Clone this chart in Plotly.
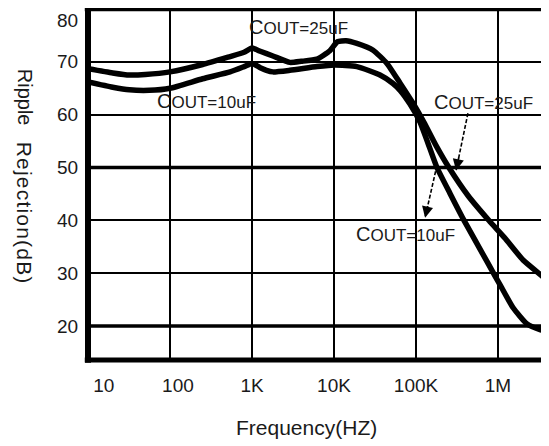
import numpy as np
import plotly.graph_objects as go

# ---------------- data ----------------
freq_25uF = [10, 20, 32, 50, 100, 250, 540, 800, 1000, 1260, 1800, 2900, 4000, 6200, 8900,
             11000, 14000, 19000, 30000, 44000, 64000, 92000, 125000, 175000, 252000,
             430000, 776000, 1220000, 2020000, 3740000, 4190000]
rr_25uF = [68.7, 67.9, 67.5, 67.6, 68.1, 69.5, 71.0, 71.8, 72.6, 72.0, 71.1, 69.9, 70.1, 70.5, 72.1,
           73.8, 74.0, 73.5, 72.2, 69.75, 65.96, 62.16, 58.56, 54.2, 50.0,
           44.7, 39.96, 36.6, 32.5, 29.0, 28.2]

freq_10uF = [10, 20, 32, 56, 100, 250, 540, 800, 1000, 1260, 1500, 1800, 2900, 6200, 10200,
             19000, 36400, 52500, 64000, 84500, 112000, 140000, 180000, 260000, 385000,
             638000, 918000, 1060000, 1520000, 2260000, 3250000, 4190000]
rr_10uF = [66.2, 65.2, 64.7, 64.6, 65.0, 66.8, 68.1, 69.1, 69.7, 68.9, 68.4, 68.1, 68.4, 69.1, 69.4,
           69.1, 67.5, 65.9, 64.6, 62.0, 58.6, 54.6, 50.0, 45.1, 40.0,
           33.9, 29.5, 27.8, 23.5, 20.4, 19.3, 18.9]

x_tick_vals = [10, 100, 1000, 10000, 100000, 1000000]
x_tick_text = ["10", "100", "1K", "10K", "100K", "1M"]
y_tick_vals = [20, 30, 40, 50, 60, 70, 80]
y_tick_text = ["20", "30", "40", "50", "60", "70", "80"]
bold_grid_y = [20, 50]

# label texts and anchor points (freq, dB)
label_text = ["COUT=25uF", "COUT=10uF", "COUT=25uF", "COUT=10uF"]
label_freq = [3640, 282, 674000, 73500]
label_db = [76.6, 62.5, 62.35, 37.5]

# arrows: tail (freq, dB) -> head (freq, dB)
arrow_tail_freq = [430000, 180000]
arrow_tail_db = [60.27, 50.4]
arrow_head_freq = [308000, 129000]
arrow_head_db = [49.45, 40.5]

# ---------------- style ----------------
FONT = "Liberation Sans, Arial, sans-serif"
TXT = "#1a1a1a"
x_label_pad = [6, 3, 0, 0, 0, 0]  # nbsp padding to nudge labels like the original

fig = go.Figure()
for fx, fy in [(freq_25uF, rr_25uF), (freq_10uF, rr_10uF)]:
    fig.add_trace(go.Scatter(
        x=fx, y=fy, mode="lines",
        line=dict(color="black", width=5.5, shape="spline", smoothing=0.5),
        showlegend=False, hoverinfo="skip"))

ticktext = ["\u00a0" * p + t for p, t in zip(x_label_pad, x_tick_text)]

fig.update_xaxes(
    type="log", range=[1, 6.622],
    tickmode="array", tickvals=x_tick_vals, ticktext=ticktext,
    showgrid=True, gridcolor="black", gridwidth=1.6,
    showline=False,
    ticks="outside", ticklen=8, tickcolor="rgba(0,0,0,0)",
    tickfont=dict(family=FONT, size=19, color=TXT),
    zeroline=False, fixedrange=True,
)
fig.update_yaxes(
    range=[13.57, 80.0],
    tickmode="array", tickvals=y_tick_vals,
    showgrid=True, gridcolor="black", gridwidth=1.6,
    showline=False, ticks="", showticklabels=False,
    zeroline=False, fixedrange=True,
)

for v in bold_grid_y:
    fig.add_shape(type="line", xref="paper", yref="y", x0=0, x1=1, y0=v, y1=v,
                  line=dict(color="black", width=3.5), layer="below")

# frame (left, top, bottom) centred on the plot-area edges
fig.add_shape(type="line", xref="paper", yref="paper", x0=0, x1=0, y0=-0.008, y1=1.008,
              line=dict(color="black", width=6))
fig.add_shape(type="line", xref="paper", yref="paper", x0=-0.007, x1=1, y0=1, y1=1,
              line=dict(color="black", width=4.5))
fig.add_shape(type="line", xref="paper", yref="paper", x0=-0.007, x1=1, y0=0, y1=0,
              line=dict(color="black", width=5))

annotations = []
# y tick labels, placed on the y scale just left of the frame
for v, t in zip(y_tick_vals, y_tick_text):
    annotations.append(dict(x=0, y=v, xref="paper", yref="y", text=t, showarrow=False,
                            xanchor="right", yanchor="middle", xshift=-8,
                            yshift=(-11 if v == max(y_tick_vals) else 0),
                            font=dict(family=FONT, size=19, color=TXT)))

for t, f, d in zip(label_text, label_freq, label_db):
    html = "<span style='font-size:20px'>" + t[0] + "</span>" + t[1:]
    annotations.append(dict(x=np.log10(f), y=d, xref="x", yref="y", text=html,
                            showarrow=False, xanchor="center", yanchor="middle",
                            font=dict(family=FONT, size=17, color=TXT)))

# dashed arrow shafts + filled heads
for tf, td, hf, hd in zip(arrow_tail_freq, arrow_tail_db, arrow_head_freq, arrow_head_db):
    fig.add_shape(type="line", xref="x", yref="y", x0=tf, y0=td, x1=hf, y1=hd,
                  line=dict(color="black", width=1.6, dash="4px,2px"))
    lx_t, lx_h = np.log10(tf), np.log10(hf)
    annotations.append(dict(x=lx_h, y=hd, ax=lx_h + 0.25 * (lx_t - lx_h), ay=hd + 0.25 * (td - hd),
                            xref="x", yref="y", axref="x", ayref="y", text="",
                            showarrow=True, arrowhead=2, arrowsize=1.4, arrowwidth=1.6,
                            arrowcolor="black"))
# axis titles
annotations.append(dict(x=0.475, y=-0.191, xref="paper", yref="paper",
                        text="Frequency(HZ)", showarrow=False, xanchor="center", yanchor="middle",
                        font=dict(family=FONT, size=21, color=TXT)))
annotations.append(dict(x=-0.136, y=0.749, xref="paper", yref="paper",
                        text="Ripple", textangle=90, showarrow=False, xanchor="center", yanchor="middle",
                        font=dict(family=FONT, size=20, color=TXT)))
annotations.append(dict(x=-0.136, y=0.4187, xref="paper", yref="paper",
                        text="<span style='letter-spacing:1.2px'>Rejection(dB)</span>", textangle=90,
                        showarrow=False, xanchor="center", yanchor="middle",
                        font=dict(family=FONT, size=21, color=TXT)))

fig.update_layout(
    width=541, height=438,
    margin=dict(l=80, r=0, t=1, b=86, pad=0),
    paper_bgcolor="white", plot_bgcolor="white",
    annotations=annotations,
    showlegend=False,
)

fig.write_html("out.html")
